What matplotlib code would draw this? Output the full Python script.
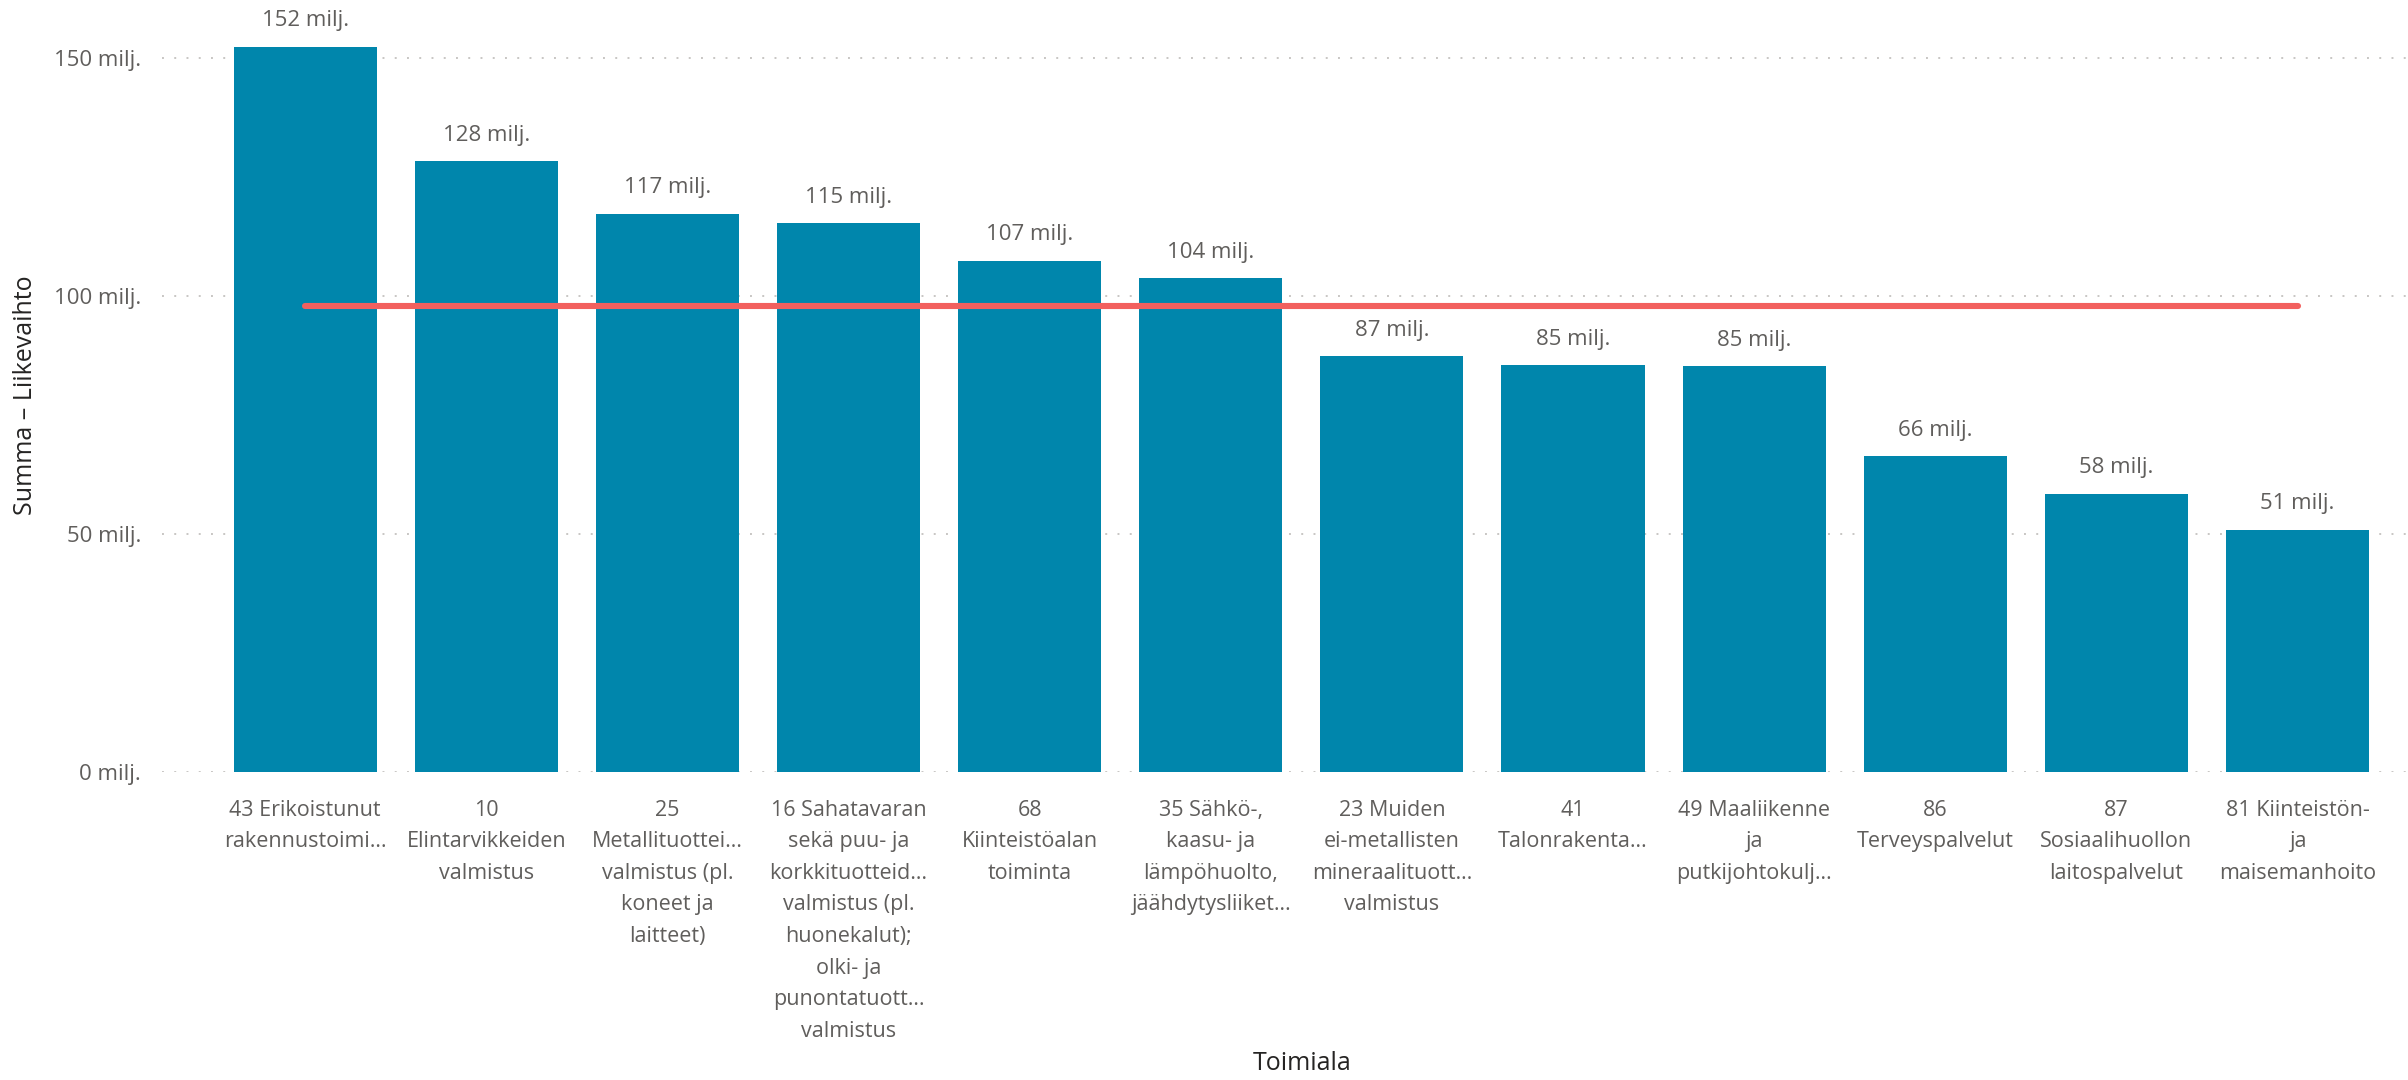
import matplotlib
matplotlib.use("Agg")
import matplotlib.pyplot as plt
from matplotlib import font_manager

# ---- data ----
categories = [
    "43 Erikoistunut\nrakennustoimi…",
    "10\nElintarvikkeiden\nvalmistus",
    "25\nMetallituottei…\nvalmistus (pl.\nkoneet ja\nlaitteet)",
    "16 Sahatavaran\nsekä puu- ja\nkorkkituotteid…\nvalmistus (pl.\nhuonekalut);\nolki- ja\npunontatuott…\nvalmistus",
    "68\nKiinteistöalan\ntoiminta",
    "35 Sähkö-,\nkaasu- ja\nlämpöhuolto,\njäähdytysliiket…",
    "23 Muiden\nei-metallisten\nmineraalituott…\nvalmistus",
    "41\nTalonrakenta…",
    "49 Maaliikenne\nja\nputkijohtokulj…",
    "86\nTerveyspalvelut",
    "87\nSosiaalihuollon\nlaitospalvelut",
    "81 Kiinteistön-\nja\nmaisemanhoito",
]
liikevaihto = [152.4, 128.3, 117.3, 115.3, 107.4, 103.8, 87.3, 85.4, 85.2, 66.3, 58.5, 50.9]  # milj.
average_line = 97.9
y_ticks = [0, 50, 100, 150]
y_tick_labels = ["0 milj.", "50 milj.", "100 milj.", "150 milj."]
y_title = "Summa – Liikevaihto"
x_title = "Toimiala"

# ---- fonts ----
available = {f.name for f in font_manager.fontManager.ttflist}
base = "Open Sans" if "Open Sans" in available else "DejaVu Sans"
plt.rcParams["font.family"] = [base, "DejaVu Sans"]

W, H = 2408, 1080
fig = plt.figure(figsize=(W / 100, H / 100), dpi=100)
fig.patch.set_facecolor("white")

left_px, base_px, top_val_px = 162, 772, 58
ax = fig.add_axes([left_px / W, 1 - base_px / H, 1 - left_px / W, base_px / H])
px_per_unit = (base_px - top_val_px) / 150.0
ax.set_ylim(0, base_px / px_per_unit)
ax.set_xlim(-0.79, len(categories) - 1 + 0.61)

bar_color = "#0086AC"
label_color = "#605E5C"
x = list(range(len(categories)))
ax.bar(x, liikevaihto, width=0.79, color=bar_color, zorder=2)

# gridlines
for t in y_ticks:
    ax.axhline(t, color="#C8C6C4", lw=1.4, dashes=(1, 5.3), zorder=1)

# average line
ax.plot([x[0], x[-1]], [average_line, average_line], color="#F2605E", lw=4.4,
        solid_capstyle="round", zorder=3)

# data labels
for xi, v in zip(x, liikevaihto):
    ax.annotate(f"{round(v)} milj.", (xi, v), xytext=(0, 11), textcoords="offset points",
                ha="center", va="bottom", fontsize=16, color=label_color, zorder=4,
                bbox=dict(boxstyle="square,pad=0.1", fc="white", ec="none", alpha=0.6))

ax.set_yticks(y_ticks)
ax.set_yticklabels(y_tick_labels, fontsize=16, color=label_color)
ax.set_xticks(x)
ax.set_xticklabels(categories, fontsize=15.5, color=label_color, linespacing=1.66,
                   va="top", ha="center")
ax.tick_params(axis="both", length=0)
ax.tick_params(axis="y", pad=15)
ax.tick_params(axis="x", pad=20)
for s in ax.spines.values():
    s.set_visible(False)

fig.text(26 / W, 1 - 395 / H, y_title, rotation=90, ha="center", va="center",
         fontsize=18, color="#252423")
fig.text(1302 / W, 1 - 1064 / H, x_title, ha="center", va="center",
         fontsize=18, color="#252423")

fig.savefig("out.png", dpi=100, facecolor="white")
